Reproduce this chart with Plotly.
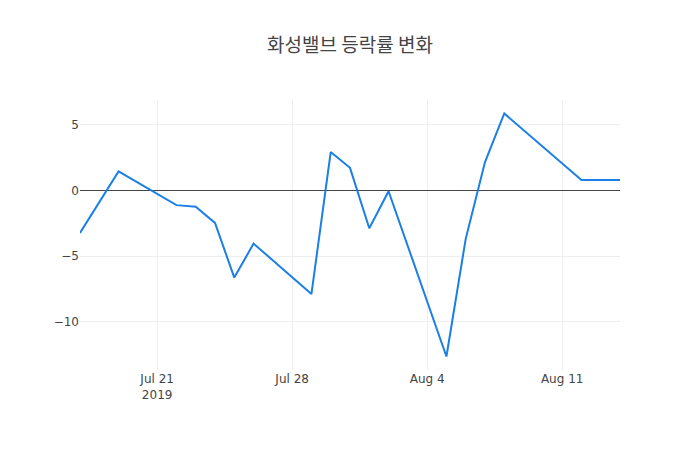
import plotly.graph_objects as go

dates = ["2019-07-17", "2019-07-19", "2019-07-22", "2019-07-23", "2019-07-24",
         "2019-07-25", "2019-07-26", "2019-07-29", "2019-07-30", "2019-07-31",
         "2019-08-01", "2019-08-02", "2019-08-05", "2019-08-06", "2019-08-07",
         "2019-08-08", "2019-08-12", "2019-08-13", "2019-08-14"]
changes = [-3.24, 1.45, -1.12, -1.25, -2.47,
           -6.64, -4.05, -7.89, 2.92, 1.72,
           -2.88, -0.06, -12.65, -3.69, 2.16,
           5.86, 0.79, 0.79, 0.79]

title_text = "화성밸브 등락률 변화"

fig = go.Figure()
fig.add_trace(go.Scatter(
    x=dates, y=changes, mode="lines",
    line=dict(color="#1a7fe6", width=2),
))

fig.update_layout(
    template="none",
    width=700, height=450,
    title=dict(text=title_text, x=0.5, xanchor="center", y=0.915,
               font=dict(family="Noto Sans CJK KR", size=19, color="#444")),
    font=dict(family="DejaVu Sans, Noto Sans CJK KR", size=12, color="#444"),
    paper_bgcolor="white", plot_bgcolor="white",
    margin=dict(l=80, r=80, t=100, b=80),
    showlegend=False,
    xaxis=dict(showgrid=True, gridcolor="#eeeeee", zeroline=False,
               showline=False, ticks=""),
    yaxis=dict(showgrid=True, gridcolor="#eeeeee", zeroline=True,
               zerolinecolor="#444", zerolinewidth=1, showline=False,
               ticks="", tickvals=[-10, -5, 0, 5]),
)

fig.write_html("out.html")
